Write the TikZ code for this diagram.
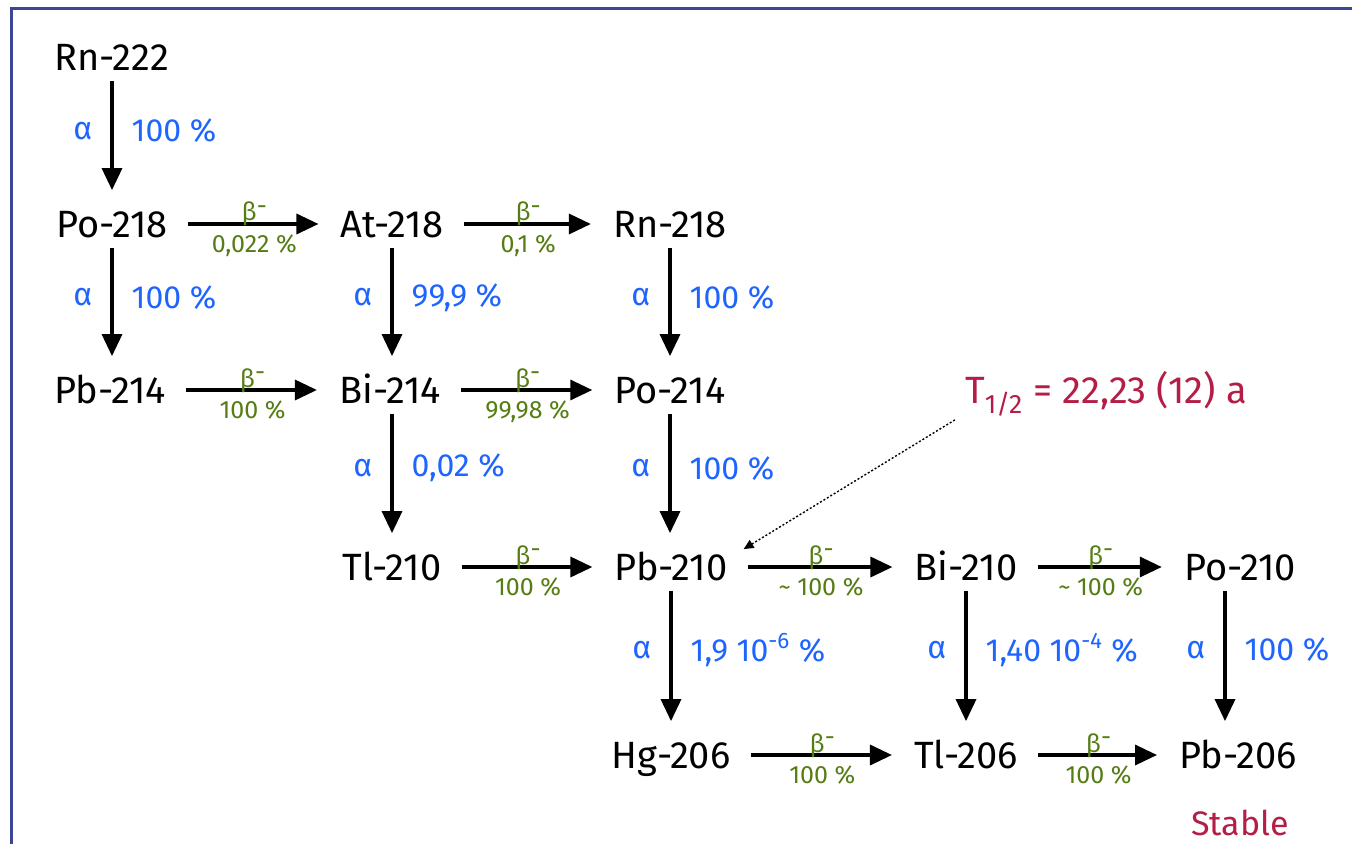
\documentclass[tikz,border=0pt]{standalone}
\usepackage{fontspec}
\setmainfont{Fira Sans}
\usetikzlibrary{arrows.meta}
\definecolor{alphablue}{RGB}{30,100,255}
\definecolor{betagreen}{RGB}{85,125,20}
\definecolor{halfred}{RGB}{180,30,70}
\definecolor{frameblue}{RGB}{60,70,150}

\begin{document}
\begin{tikzpicture}[x=0.5pt, y=-0.5pt, >={Triangle[length=11pt,width=10pt]},
	nuc/.style={inner xsep=5pt, inner ysep=5pt, text height=13.5pt, text depth=0pt, font=\fontsize{19}{22}\selectfont},
	decay/.style={->, line width=1.7pt},
	alab/.style={text=alphablue, inner sep=0pt, font=\fontsize{16}{19}\selectfont},
	blab/.style={text=betagreen, inner sep=0pt, font=\fontsize{12.5}{15}\selectfont}]
	\useasboundingbox (0,0) rectangle (1352,844);
	\draw [frameblue, line width=1.5pt] (11,880) |- (1380,9);

	% nuclides
	\node [nuc] (rn222) at (112,57) {Rn-222};
	\node [nuc] (po218) at (112,224) {Po-218};
	\node [nuc] (at218) at (392,224) {At-218};
	\node [nuc] (rn218) at (670,224) {Rn-218};
	\node [nuc] (pb214) at (110,390) {Pb-214};
	\node [nuc] (bi214) at (390,390) {Bi-214};
	\node [nuc] (po214) at (670,390) {Po-214};
	\node [nuc] (tl210) at (392,567) {Tl-210};
	\node [nuc] (pb210) at (671,567) {Pb-210};
	\node [nuc] (bi210) at (966,567) {Bi-210};
	\node [nuc] (po210) at (1240,567) {Po-210};
	\node [nuc] (hg206) at (671,755) {Hg-206};
	\node [nuc] (tl206) at (966,755) {Tl-206};
	\node [nuc] (pb206) at (1238,755) {Pb-206};
	\node [text=halfred, font=\fontsize{17}{20}\selectfont] (stable) at (1240,823) {Stable};
	\node [nuc, text=halfred] (thalf) at (1106,390) {T\textsubscript{1/2} = 22,23 (12) a};

	% alpha decays
	\draw [decay, shorten >=5pt] (rn222.south) -- (po218.north) node [alab, pos=0.42, left=9pt] {α} node [alab, pos=0.42, right=9pt] {100 \%};
	\draw [decay, shorten >=5pt] (po218.south) -- (pb214.north -| po218) node [alab, pos=0.42, left=9pt] {α} node [alab, pos=0.42, right=9pt] {100 \%};
	\draw [decay, shorten >=5pt] (at218.south) -- (bi214.north -| at218) node [alab, pos=0.42, left=9pt] {α} node [alab, pos=0.42, right=9pt] {99,9 \%};
	\draw [decay, shorten >=5pt] (rn218.south) -- (po214.north) node [alab, pos=0.42, left=9pt] {α} node [alab, pos=0.42, right=9pt] {100 \%};
	\draw [decay, shorten >=5pt] (tl210.north |- bi214.south) -- (tl210.north) node [alab, pos=0.42, left=9pt] {α} node [alab, pos=0.42, right=9pt] {0,02 \%};
	\draw [decay, shorten >=5pt] (po214.south) -- (po214.south |- pb210.north) node [alab, pos=0.42, left=9pt] {α} node [alab, pos=0.42, right=9pt] {100 \%};
	\draw [decay, shorten >=5pt] (pb210.south) -- (hg206.north) node [alab, pos=0.42, left=9pt] {α} node [alab, pos=0.42, right=9pt] {1,9 10\textsuperscript{-6} \%};
	\draw [decay, shorten >=5pt] (bi210.south) -- (tl206.north) node [alab, pos=0.42, left=9pt] {α} node [alab, pos=0.42, right=9pt] {1,40 10\textsuperscript{-4} \%};
	\draw [decay, shorten >=5pt] ([xshift=-7.5pt]po210.south) -- ([xshift=-6.5pt]pb206.north) node [alab, pos=0.42, left=9pt] {α} node [alab, pos=0.42, right=9pt] {100 \%};

	% beta decays
	\foreach \a/\b/\p in {po218/at218/{0,022 \%}, at218/rn218/{0,1 \%}, pb214/bi214/{100 \%}, bi214/po214/{99,98 \%},
		tl210/pb210/{100 \%}, pb210/bi210/{\textasciitilde\ 100 \%}, bi210/po210/{\textasciitilde\ 100 \%}, hg206/tl206/{100 \%}, tl206/pb206/{100 \%}}
		\draw [decay, shorten <=5pt, shorten >=6pt] (\a.east) -- (\b.west)
			node [blab, midway, anchor=base, yshift=1.5pt] {β\raisebox{.5ex}{-}}
			node [blab, midway, below=4.5pt] {\p};

	% half-life pointer
	\draw [-{Triangle[length=5pt,width=4.5pt]}, dash pattern=on 1pt off 1pt, line width=0.7pt] ([yshift=-3pt]thalf.south west) -- ([xshift=3pt,yshift=-3pt]pb210.north east);
\end{tikzpicture}
\end{document}
